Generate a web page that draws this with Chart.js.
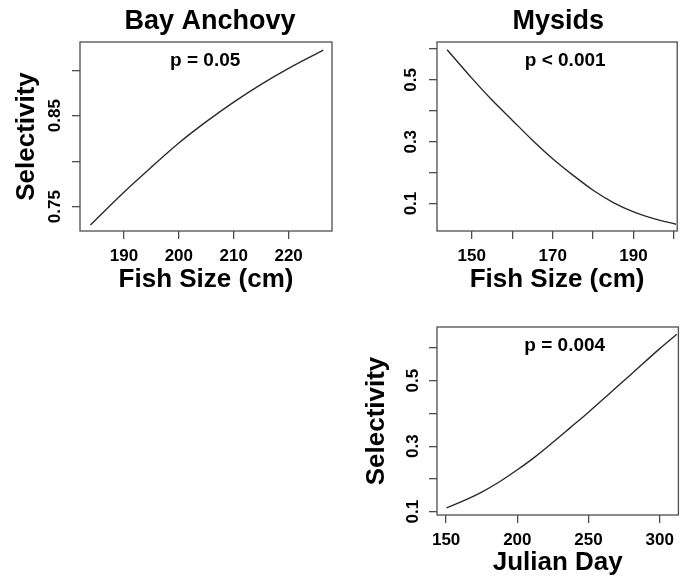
<!DOCTYPE html>
<html>
<head>
<meta charset="utf-8">
<script src="https://cdn.jsdelivr.net/npm/chart.js@4.4.1/dist/chart.umd.min.js"></script>
<style>
  html, body { margin: 0; padding: 0; background: #fff; }
  #wrap { position: relative; width: 681px; height: 582px; overflow: hidden; }
  #wrap canvas { position: absolute; }
</style>
</head>
<body>
<div id="wrap">
  <canvas id="anchovy" style="left:0;top:0;"></canvas>
  <canvas id="mysidSize" style="left:340px;top:0;"></canvas>
  <canvas id="mysidDay" style="left:340px;top:290px;"></canvas>
</div>
<script>
// Bay anchovy: fitted selectivity against fish size
const anchovySize = [183.9, 190, 195, 200, 205, 210, 215, 220, 226.3];
const anchovySel  = [0.730, 0.766, 0.7935, 0.820, 0.8435, 0.865, 0.8845, 0.902, 0.922];
const anchovyXTicks  = [190, 200, 210, 220];
const anchovyXLabels = ['190', '200', '210', '220'];
const anchovyYTicks  = [0.75, 0.80, 0.85, 0.90];
const anchovyYLabels = ['0.75', '', '0.85', ''];

// Mysids: fitted selectivity against fish size
const mysidSize = [143.9, 150, 155, 160, 165, 170, 175, 180, 185, 190, 195, 200.5];
const mysidSel  = [0.598, 0.506, 0.435, 0.370, 0.305, 0.245, 0.192, 0.143, 0.103, 0.073, 0.051, 0.033];
const mysidXTicks  = [150, 160, 170, 180, 190, 200];
const mysidXLabels = ['150', '', '170', '', '190', ''];
const mysidYTicks  = [0.1, 0.2, 0.3, 0.4, 0.5, 0.6];
const mysidYLabels = ['0.1', '', '0.3', '', '0.5', ''];

// Mysids: fitted selectivity against Julian day
const mysidDay    = [150.3, 162, 175, 187, 200, 212, 225, 237, 250, 265, 280, 300, 312];
const mysidDaySel = [0.112, 0.133, 0.160, 0.190, 0.228, 0.266, 0.312, 0.356, 0.404, 0.462, 0.520, 0.598, 0.642];
const dayXTicks  = [150, 200, 250, 300];
const dayXLabels = ['150', '200', '250', '300'];
const dayYTicks  = [0.1, 0.2, 0.3, 0.4, 0.5, 0.6];
const dayYLabels = ['0.1', '', '0.3', '', '0.5', ''];

const FAMILY = '"Liberation Sans", Arial, Helvetica, sans-serif';
const INK = '#000';
const FRAME = '#4d4d4d';

// Frame box, panel heading and significance note
const panelDecor = {
  id: 'panelDecor',
  afterDraw(chart, args, opts) {
    const { ctx, chartArea: a } = chart;
    ctx.save();
    ctx.strokeStyle = FRAME;
    ctx.lineWidth = 1.3;
    ctx.strokeRect(a.left, a.top, a.right - a.left, a.bottom - a.top);
    ctx.fillStyle = INK;
    ctx.textAlign = 'center';
    ctx.textBaseline = 'middle';
    if (opts.heading) {
      ctx.font = 'bold 27px ' + FAMILY;
      ctx.fillText(opts.heading, opts.headingX, opts.headingY);
    }
    if (opts.note) {
      ctx.font = 'bold 19px ' + FAMILY;
      ctx.fillText(opts.note,
        chart.scales.x.getPixelForValue(opts.noteAt[0]),
        chart.scales.y.getPixelForValue(opts.noteAt[1]));
    }
    ctx.restore();
  }
};

function panel(id, c) {
  const el = document.getElementById(id);
  el.width = c.size[0];
  el.height = c.size[1];
  el.style.width = c.size[0] + 'px';
  el.style.height = c.size[1] + 'px';
  return new Chart(el, {
    type: 'line',
    data: {
      datasets: [{
        data: c.xs.map((x, i) => ({ x: x, y: c.ys[i] })),
        borderColor: '#2a2a2a',
        borderWidth: 1.4,
        pointRadius: 0,
        cubicInterpolationMode: 'monotone',
        fill: false
      }]
    },
    options: {
      responsive: false,
      animation: false,
      events: [],
      layout: { padding: { top: c.padTop, right: c.padRight, bottom: 0, left: 0 } },
      plugins: {
        legend: { display: false },
        tooltip: { enabled: false },
        panelDecor: c.decor
      },
      scales: {
        x: {
          type: 'linear',
          min: c.xRange[0],
          max: c.xRange[1],
          afterBuildTicks(s) { s.ticks = c.xTicks.map(v => ({ value: v })); },
          afterFit(s) { s.height = c.xAxisH; },
          ticks: {
            autoSkip: false,
            maxRotation: 0,
            padding: 7,
            color: INK,
            font: { family: FAMILY, size: 17, weight: 'bold' },
            callback: (v, i) => c.xLabels[i]
          },
          grid: { drawOnChartArea: false, drawTicks: true, tickLength: 8, color: FRAME, lineWidth: 1.3 },
          border: { display: false },
          title: {
            display: true,
            text: c.xTitle,
            color: INK,
            font: { family: FAMILY, size: 26, weight: 'bold', lineHeight: 1 },
            padding: { top: 0, bottom: c.xTitlePad }
          }
        },
        y: {
          type: 'linear',
          min: c.yRange[0],
          max: c.yRange[1],
          afterBuildTicks(s) { s.ticks = c.yTicks.map(v => ({ value: v })); },
          afterFit(s) { s.width = c.yAxisW; },
          ticks: {
            autoSkip: false,
            minRotation: 90,
            maxRotation: 90,
            crossAlign: 'center',
            padding: c.yTickPad,
            color: INK,
            font: { family: FAMILY, size: 17, weight: 'bold' },
            callback: (v, i) => c.yLabels[i]
          },
          grid: { drawOnChartArea: false, drawTicks: true, tickLength: 8, color: FRAME, lineWidth: 1.3 },
          border: { display: false },
          title: {
            display: !!c.yTitle,
            text: c.yTitle || '',
            color: INK,
            font: { family: FAMILY, size: 26, weight: 'bold', lineHeight: 1 },
            padding: { top: c.yTitlePad, bottom: 0 }
          }
        }
      }
    },
    plugins: [panelDecor]
  });
}

panel('anchovy', {
  size: [340, 300], padTop: 42, padRight: 8, xAxisH: 69, yAxisW: 80,
  xs: anchovySize, ys: anchovySel,
  xRange: [182.0, 227.9], yRange: [0.7233, 0.931],
  xTicks: anchovyXTicks, xLabels: anchovyXLabels,
  yTicks: anchovyYTicks, yLabels: anchovyYLabels,
  xTitle: 'Fish Size (cm)', xTitlePad: 7,
  yTitle: 'Selectivity', yTitlePad: 14, yTickPad: 0,
  decor: { heading: 'Bay Anchovy', headingX: 210, headingY: 21.5, note: 'p = 0.05', noteAt: [204.8, 0.9104] }
});

panel('mysidSize', {
  size: [341, 300], padTop: 42, padRight: 1, xAxisH: 69, yAxisW: 97,
  xs: mysidSize, ys: mysidSel,
  xRange: [141.4, 200.8], yRange: [0.011, 0.623],
  xTicks: mysidXTicks, xLabels: mysidXLabels,
  yTicks: mysidYTicks, yLabels: mysidYLabels,
  xTitle: 'Fish Size (cm)', xTitlePad: 7,
  yTitle: null, yTitlePad: 0, yTickPad: 6,
  decor: { heading: 'Mysids', headingX: 218.3, headingY: 21.5, note: 'p < 0.001', noteAt: [173.1, 0.562] }
});

panel('mysidDay', {
  size: [341, 292], padTop: 37, padRight: 1, xAxisH: 67, yAxisW: 97,
  xs: mysidDay, ys: mysidDaySel,
  xRange: [143.6, 313.1], yRange: [0.09, 0.664],
  xTicks: dayXTicks, xLabels: dayXLabels,
  yTicks: dayYTicks, yLabels: dayYLabels,
  xTitle: 'Julian Day', xTitlePad: 6,
  yTitle: 'Selectivity', yTitlePad: 24, yTickPad: 4,
  decor: { heading: null, note: 'p = 0.004', noteAt: [233.3, 0.6077] }
});
</script>
</body>
</html>
